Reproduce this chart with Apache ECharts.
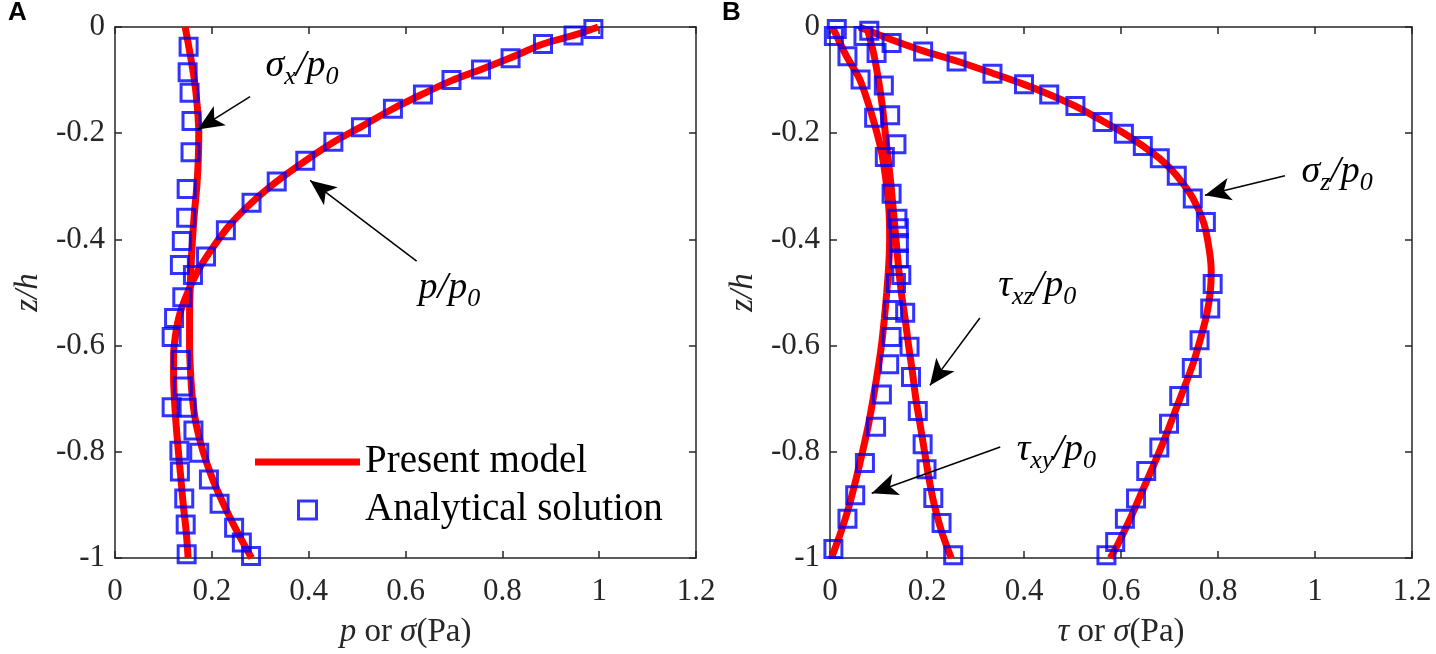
<!DOCTYPE html>
<html>
<head>
<meta charset="utf-8">
<title>Wave-induced seabed response</title>
<script src="https://cdn.jsdelivr.net/npm/echarts@6/dist/echarts.min.js"></script>
<style>
  html, body { margin: 0; padding: 0; background: #fff; }
  #main { width: 1436px; height: 654px; }
</style>
</head>
<body>
<div id="main"></div>
<script>
// ---- data: [value, z/h] ----
// panel A, present model (red lines)
var aModelP = [[0.998,0],[0.95,-0.015],[0.884,-0.032],[0.817,-0.058],[0.756,-0.080],[0.695,-0.101],[0.636,-0.126],[0.574,-0.154],[0.508,-0.188],[0.451,-0.217],[0.393,-0.252],[0.334,-0.291],[0.282,-0.331],[0.235,-0.375],[0.200,-0.418],[0.172,-0.458],[0.150,-0.50],[0.134,-0.54],[0.125,-0.58],[0.121,-0.62],[0.121,-0.66],[0.124,-0.72],[0.129,-0.78],[0.135,-0.84],[0.141,-0.90],[0.147,-0.95],[0.151,-1.0]];
var aModelSx = [[0.145,0],[0.155,-0.05],[0.164,-0.1],[0.170,-0.15],[0.173,-0.2],[0.172,-0.25],[0.169,-0.3],[0.164,-0.35],[0.160,-0.4],[0.157,-0.45],[0.155,-0.5],[0.154,-0.55],[0.154,-0.6],[0.156,-0.65],[0.160,-0.7],[0.168,-0.75],[0.182,-0.8],[0.201,-0.85],[0.225,-0.9],[0.252,-0.95],[0.282,-1.0]];
// panel A, analytical solution (squares)
var aExactP = [[0.988,-0.004],[0.947,-0.016],[0.884,-0.032],[0.817,-0.059],[0.756,-0.080],[0.695,-0.100],[0.636,-0.127],[0.574,-0.154],[0.508,-0.189],[0.451,-0.216],[0.393,-0.252],[0.334,-0.291],[0.282,-0.331],[0.229,-0.383],[0.188,-0.432],[0.161,-0.467],[0.122,-0.548],[0.117,-0.584],[0.136,-0.627],[0.140,-0.677],[0.117,-0.716],[0.133,-0.798],[0.134,-0.837],[0.143,-0.888],[0.146,-0.937],[0.148,-0.993]];
var aExactSx = [[0.152,-0.037],[0.150,-0.085],[0.154,-0.124],[0.158,-0.177],[0.156,-0.236],[0.148,-0.305],[0.147,-0.359],[0.138,-0.403],[0.134,-0.448],[0.139,-0.509],[0.148,-0.717],[0.162,-0.760],[0.174,-0.802],[0.194,-0.852],[0.216,-0.898],[0.246,-0.943],[0.262,-0.971],[0.281,-0.996]];

// panel B, present model
var bModelSz = [[0.06,0],[0.13,-0.025],[0.192,-0.045],[0.261,-0.064],[0.335,-0.087],[0.400,-0.108],[0.452,-0.127],[0.506,-0.149],[0.562,-0.177],[0.606,-0.200],[0.645,-0.224],[0.680,-0.248],[0.715,-0.280],[0.748,-0.322],[0.771,-0.37],[0.782,-0.42],[0.786,-0.46],[0.784,-0.50],[0.777,-0.54],[0.766,-0.58],[0.750,-0.63],[0.730,-0.68],[0.709,-0.73],[0.688,-0.78],[0.665,-0.83],[0.641,-0.88],[0.617,-0.93],[0.593,-0.975],[0.578,-1.0]];
var bModelTxz = [[0.076,0],[0.090,-0.05],[0.100,-0.1],[0.108,-0.15],[0.114,-0.2],[0.120,-0.25],[0.126,-0.3],[0.131,-0.35],[0.136,-0.4],[0.141,-0.45],[0.147,-0.5],[0.155,-0.55],[0.162,-0.6],[0.170,-0.65],[0.177,-0.7],[0.186,-0.75],[0.195,-0.8],[0.204,-0.85],[0.215,-0.9],[0.230,-0.95],[0.250,-1.0]];
var bModelTxy = [[0.005,0],[0.034,-0.055],[0.062,-0.1],[0.086,-0.165],[0.105,-0.23],[0.117,-0.3],[0.122,-0.35],[0.123,-0.40],[0.121,-0.45],[0.117,-0.5],[0.112,-0.55],[0.106,-0.6],[0.098,-0.65],[0.089,-0.7],[0.079,-0.75],[0.067,-0.8],[0.054,-0.85],[0.040,-0.9],[0.023,-0.95],[0.003,-1.0]];
// panel B, analytical solution
var bExactSz = [[0.081,-0.007],[0.127,-0.030],[0.192,-0.046],[0.261,-0.065],[0.335,-0.088],[0.400,-0.108],[0.452,-0.127],[0.506,-0.149],[0.562,-0.179],[0.606,-0.201],[0.645,-0.224],[0.680,-0.247],[0.715,-0.280],[0.748,-0.323],[0.775,-0.367],[0.789,-0.484],[0.784,-0.530],[0.762,-0.590],[0.746,-0.642],[0.720,-0.695],[0.699,-0.747],[0.679,-0.792],[0.652,-0.836],[0.631,-0.888],[0.608,-0.926],[0.588,-0.970],[0.570,-0.995]];
var bExactTxz = [[0.069,-0.017],[0.096,-0.049],[0.111,-0.110],[0.124,-0.166],[0.137,-0.221],[0.139,-0.361],[0.142,-0.407],[0.147,-0.467],[0.155,-0.538],[0.164,-0.602],[0.167,-0.659],[0.181,-0.723],[0.191,-0.786],[0.199,-0.833],[0.213,-0.887],[0.230,-0.934],[0.254,-0.995]];
var bExactTxy = [[0.014,-0.004],[0.008,-0.017],[0.036,-0.055],[0.063,-0.099],[0.091,-0.171],[0.113,-0.245],[0.127,-0.314],[0.142,-0.379],[0.142,-0.436],[0.136,-0.482],[0.130,-0.533],[0.127,-0.584],[0.122,-0.635],[0.107,-0.692],[0.095,-0.753],[0.072,-0.821],[0.052,-0.882],[0.036,-0.926],[0.007,-0.983]];

// axis ranges / ticks
var xRange = [0, 1.2], xStep = 0.2;
var zRange = [-1, 0], zStep = 0.2;

// annotations: label anchor, arrow tail, arrow tip (data coords)
var aNotes = [
	{text:'{m|σ}{s|x}{m|/p}{s|0}', at:[0.31,-0.073], tail:[0.279,-0.131], tip:[0.171,-0.193]},
	{text:'{m|p/p}{s|0}', at:[0.626,-0.492], tail:[0.623,-0.441], tip:[0.403,-0.289]}
];
var bNotes = [
	{text:'{m|σ}{s|z}{m|/p}{s|0}', at:[0.971,-0.273], tail:[0.938,-0.280], tip:[0.773,-0.317]},
	{text:'{m|τ}{s|xz}{m|/p}{s|0}', at:[0.346,-0.488], tail:[0.309,-0.548], tip:[0.206,-0.675]},
	{text:'{m|τ}{s|xy}{m|/p}{s|0}', at:[0.384,-0.796], tail:[0.351,-0.791], tip:[0.086,-0.878]}
];

var SERIF = "'Liberation Serif','Times New Roman',serif";
var RED = '#ff0000', BLUE = '#0000ff', AX = '#262626';

var noteRich = {
	m:{fontFamily:SERIF, fontStyle:'italic', fontSize:38, lineHeight:48, color:'#000'},
	s:{fontFamily:SERIF, fontStyle:'italic', fontSize:26, lineHeight:26, verticalAlign:'bottom', color:'#000'}
};

function xAx(grid, top, title){
	return {
		type:'value', gridIndex:grid, position: top ? 'top' : 'bottom',
		min:xRange[0], max:xRange[1], interval:xStep,
		axisLine:{show:true, onZero:false, lineStyle:{color:AX, width:1.5}},
		axisTick:{show:true, inside:true, length:7, lineStyle:{color:AX, width:1.5}},
		axisLabel:{show:!top, fontFamily:SERIF, fontSize:31, color:AX, margin:18},
		splitLine:{show:false},
		name: top ? '' : title, nameLocation:'middle', nameGap:58,
		nameTextStyle:{fontFamily:SERIF, fontSize:33, color:AX,
			rich:{i:{fontFamily:SERIF, fontStyle:'italic', fontSize:33, color:AX}}}
	};
}
function yAx(grid, right){
	return {
		type:'value', gridIndex:grid, position: right ? 'right' : 'left',
		min:zRange[0], max:zRange[1], interval:zStep,
		axisLine:{show:true, onZero:false, lineStyle:{color:AX, width:1.5}},
		axisTick:{show:true, inside:true, length:7, lineStyle:{color:AX, width:1.5}},
		axisLabel:{show:!right, fontFamily:SERIF, fontSize:31, color:AX, margin:10},
		splitLine:{show:false},
		name: right ? '' : 'z/h', nameLocation:'middle', nameGap:70,
		nameTextStyle:{fontFamily:SERIF, fontStyle:'italic', fontSize:33, color:AX}
	};
}

function modelLine(data, xi, notes){
	var s = {
		name:'Present model', type:'line', data:data, xAxisIndex:xi, yAxisIndex:xi,
		smooth:0.3, symbol:'none', showSymbol:false, z:2,
		lineStyle:{color:RED, width:7}, itemStyle:{color:RED}
	};
	if(notes){
		s.markLine = {
			silent:true, symbol:['none','arrow'], symbolSize:22,
			lineStyle:{color:'#000', width:1.5, type:'solid'}, label:{show:false},
			data: notes.map(function(n){
				return [{coord:n.tail, symbol:'none'}, {coord:n.tip, symbol:'arrow', symbolSize:[17,26]}];
			})
		};
		s.markPoint = {
			silent:true, symbol:'rect', symbolSize:1, itemStyle:{color:'rgba(0,0,0,0)'},
			label:{show:true, position:'right', distance:0, rich:noteRich},
			data: notes.map(function(n){ return {coord:n.at, label:{formatter:n.text}}; })
		};
	}
	return s;
}
function exactPts(data, xi){
	return {
		name:'Analytical solution', type:'scatter', data:data, xAxisIndex:xi, yAxisIndex:xi,
		symbol:'rect', symbolSize:17, clip:false, z:3,
		itemStyle:{color:'rgba(0,0,0,0)', borderColor:BLUE, borderWidth:3}
	};
}

var chart = echarts.init(document.getElementById('main'));
var option = {
	animation:false,
	backgroundColor:'#fff',
	title:[
		{text:'A', left:8, top:0, padding:0, textStyle:{fontFamily:"'Liberation Sans',Arial,sans-serif", fontWeight:'bold', fontSize:26, color:'#000'}},
		{text:'B', left:722, top:0, padding:0, textStyle:{fontFamily:"'Liberation Sans',Arial,sans-serif", fontWeight:'bold', fontSize:26, color:'#000'}}
	],
	legend:{
		orient:'vertical', left:255, top:442, padding:0, itemGap:8,
		itemWidth:105, itemHeight:18, selectedMode:false,
		textStyle:{fontFamily:SERIF, fontSize:39, lineHeight:40, color:'#000'},
		data:[
			{name:'Present model', icon:'path://M0,0H105V7H0Z', itemStyle:{color:RED, borderWidth:0}},
			{name:'Analytical solution', icon:'path://M0,0H10V10H0Z', itemStyle:{color:'rgba(0,0,0,0)', borderColor:BLUE, borderWidth:3}}
		]
	},
	grid:[
		{left:115, top:27, width:581, height:535},
		{left:830, top:27, width:582, height:535}
	],
	xAxis:[xAx(0,false,'{i|p} or {i|σ}(Pa)'), xAx(0,true), xAx(1,false,'{i|τ} or {i|σ}(Pa)'), xAx(1,true)],
	yAxis:[yAx(0,false), yAx(0,true), yAx(1,false), yAx(1,true)],
	series:[
		modelLine(aModelP, 0, aNotes),
		modelLine(aModelSx, 0),
		exactPts(aExactP, 0),
		exactPts(aExactSx, 0),
		modelLine(bModelSz, 2, bNotes),
		modelLine(bModelTxz, 2),
		modelLine(bModelTxy, 2),
		exactPts(bExactSz, 2),
		exactPts(bExactTxz, 2),
		exactPts(bExactTxy, 2)
	]
};
chart.setOption(option);
</script>
</body>
</html>
